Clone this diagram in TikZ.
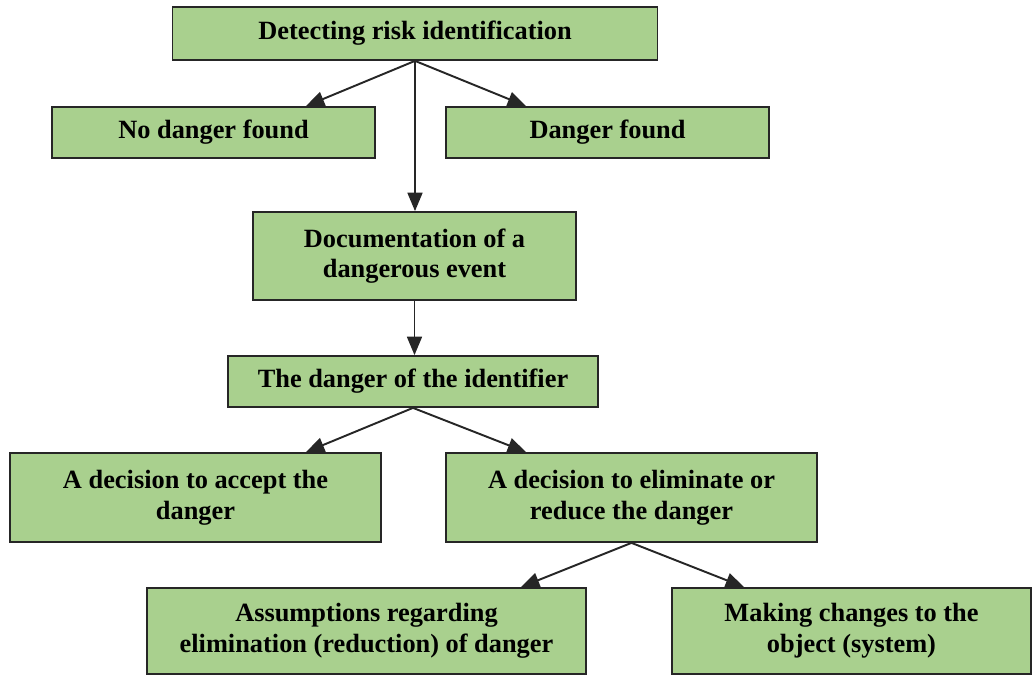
\documentclass[tikz,border=0pt]{standalone}
\usepackage{fontspec}
\setmainfont{Liberation Serif}
\usepackage{tikz}
\usetikzlibrary{arrows.meta}
\definecolor{boxgreen}{RGB}{169,208,142}

\begin{document}
\begin{tikzpicture}[every node/.style={draw=black!85, line width=1pt, fill=boxgreen, align=center,
        inner sep=2pt, font=\fontsize{15}{17.5}\selectfont\bfseries},
    arr/.style={-{Triangle[length=10.5pt,width=8.5pt]}, line width=1.1pt, black!85}]
    \useasboundingbox (0,0) rectangle (20.66,-13.5);

    \node[minimum width=9.7cm, minimum height=1.06cm] (detect) at (8.3,-0.67) {Detecting risk identification};
    \node[minimum width=6.46cm, minimum height=1.02cm] (nodanger) at (4.27,-2.65) {No danger found};
    \node[minimum width=6.46cm, minimum height=1.02cm] (danger) at (12.15,-2.65) {Danger found};
    \node[minimum width=6.46cm, minimum height=1.76cm] (docu) at (8.29,-5.12) {Documentation of a\\dangerous event};
    \node[minimum width=7.4cm, minimum height=1.02cm] (ident) at (8.26,-7.63) {The danger of the identifier};
    \node[minimum width=7.42cm, minimum height=1.78cm] (accept) at (3.91,-9.95) {A decision to accept the\\danger};
    \node[minimum width=7.42cm, minimum height=1.78cm] (elim) at (12.63,-9.95) {A decision to eliminate or\\reduce the danger};
    \node[minimum width=8.78cm, minimum height=1.72cm] (assume) at (7.33,-12.62) {Assumptions regarding\\elimination (reduction) of danger};
    \node[minimum width=7.18cm, minimum height=1.72cm] (change) at (17.03,-12.62) {Making changes to the\\object (system)};

    \draw[arr] (detect.south) -- ([xshift=-1.4cm]nodanger.north east);
    \draw[arr] (detect.south) -- ([xshift=1.62cm]danger.north west);
    \draw[arr] (detect.south) -- (detect.south |- docu.north);
    \draw[arr] (docu.south) -- (docu.south |- ident.north);

    \draw[arr] (ident.south) -- ([xshift=-1.52cm]accept.north east);
    \draw[arr] (ident.south) -- ([xshift=1.62cm]elim.north west);

    \draw[arr] (elim.south) -- ([xshift=-1.32cm]assume.north east);
    \draw[arr] (elim.south) -- ([xshift=1.46cm]change.north west);
\end{tikzpicture}
\end{document}
